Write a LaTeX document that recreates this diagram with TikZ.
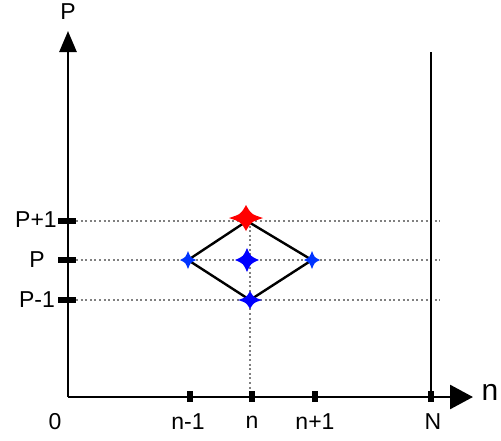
\documentclass[tikz,border=0pt]{standalone}
\usepackage{fontspec}
\setmainfont{Liberation Sans}
\usetikzlibrary{positioning, arrows.meta}
\tikzset{
  axisline/.style={line width=2.7pt},
  gridline/.style={gray, line width=2.2pt, dash pattern=on 2pt off 2.6pt},
  tickmark/.style={line width=5.5pt},
  lbl/.style={font=\fontsize{23}{23}\selectfont, inner sep=0pt},
  spark/.pic={
    \fill (1,0) .. controls (0.3,0.3) .. (0,1)
      .. controls (-0.3,0.3) .. (-1,0)
      .. controls (-0.3,-0.3) .. (0,-1)
      .. controls (0.3,-0.3) .. cycle;
  }
}
\begin{document}
\begin{tikzpicture}[x=1pt, y=-1pt]
  \useasboundingbox (0,0) rectangle (501,440);
  % axes
  \coordinate (origin) at (68,397);
  \coordinate (ytop) at (68,31);
  \coordinate (xend) at (473,397);
  \coordinate (ntop) at (431,52);
  \coordinate (nbot) at (431,397);

  % dotted guide lines
  \coordinate (gup) at (440,221);
  \coordinate (gmid) at (440,260);
  \coordinate (gdown) at (440,300);
  \draw [gridline] (76,221) -- (gup);
  \draw [gridline] (76,260) -- (gmid);
  \draw [gridline] (76,300) -- (gdown);
  \draw [gridline] (250,221) -- (250,397);

  \draw [axisline, -{Triangle[length=21pt,width=17pt]}] (origin) -- (ytop);
  \draw [axisline, -{Triangle[length=23pt,width=24pt]}] (origin) -- (xend);
  \draw [axisline] (nbot) -- (ntop);

  % ticks
  \foreach \tx in {190,252,315,431}
    \draw [tickmark] (\tx,391) -- (\tx,402);
  \foreach \ty in {221,260,300}
    \draw [tickmark] (58,\ty) -- (76,\ty);

  % axis labels
  \node [lbl] (lP) at (68,12) {P};
  \node [lbl, font=\fontsize{30}{30}\selectfont] (ln) at (490,392) {n};
  \node [lbl] (l0) at (55,422) {0};
  \node [lbl] (lnm) at (188,422) {n-1};
  \node [lbl] (lnn) at (252,422) {n};
  \node [lbl] (lnp) at (315,422) {n+1};
  \node [lbl] (lN) at (433,422) {N};
  \node [lbl] (lPp) at (36,220) {P+1};
  \node [lbl] (lPc) at (37,260) {P};
  \node [lbl] (lPm) at (37,300) {P-1};

  % stencil
  \coordinate (top) at (247,221);
  \coordinate (left) at (188,260);
  \coordinate (right) at (312,260);
  \coordinate (bot) at (250,300);
  \draw [line width=2.4pt, line join=miter] (top) -- (left) -- (bot) -- (right) -- cycle;

  \pic [red, xscale=17, yscale=13] at (246,218) {spark};
  \pic [blue!80!cyan, xscale=8, yscale=9] at (left) {spark};
  \pic [blue!80!cyan, xscale=8, yscale=9] at (right) {spark};
  \pic [blue, xscale=12, yscale=12] at (247,260) {spark};
  \pic [blue, xscale=12, yscale=9] at (bot) {spark};
\end{tikzpicture}
\end{document}
